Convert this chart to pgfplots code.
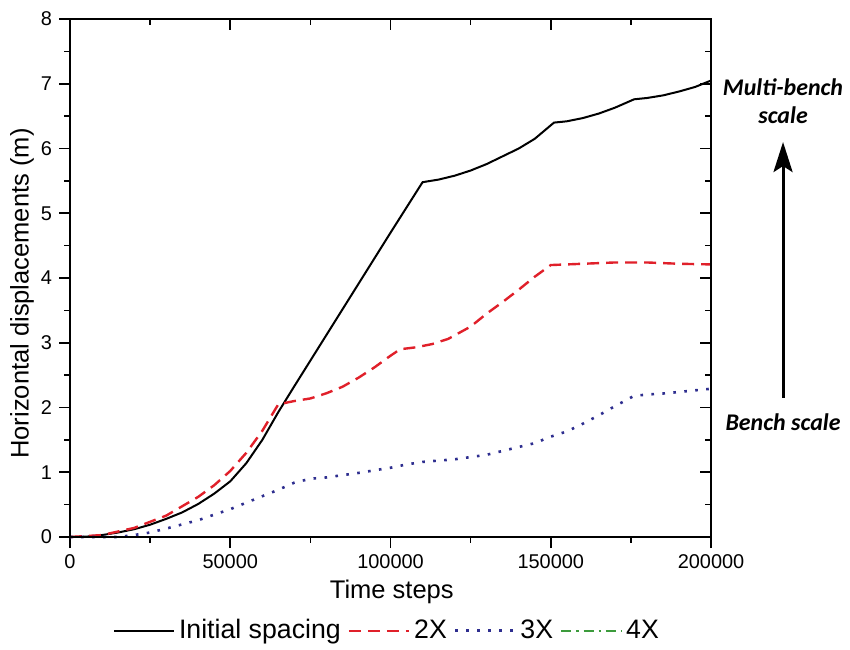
\documentclass[border=0pt]{standalone}
\usepackage{fontspec}
\setmainfont{Liberation Sans}
\newfontfamily\annfont{Carlito}
\usepackage{pgfplots}
\pgfplotsset{compat=1.18}
\usetikzlibrary{arrows.meta}

\definecolor{dred}{HTML}{E0202A}
\definecolor{dblue}{HTML}{2E2E8F}
\definecolor{dgreen}{HTML}{3C9B3C}

\pgfplotsset{
  frame/.style={
    scale only axis, width=320.5bp, height=259bp,
    xmin=0, xmax=200000, ymin=0, ymax=8,
    xtick={0,50000,100000,150000,200000}, minor x tick num=1,
    ytick={0,1,...,8}, minor y tick num=1,
    axis line style={line width=1bp},
    every tick/.style={black, line width=0.8bp},
    major tick length=5.5bp, minor tick length=2.8bp,
    scaled x ticks=false,
  }
}

\begin{document}
\begin{tikzpicture}
\begin{axis}[frame, name=ax,
    tick align=outside, xtick pos=left, ytick pos=left,
    clip=false,
    xticklabels={0,50000,100000,150000,200000},
    yticklabels={0,1,2,3,4,5,6,7,8},
    tick label style={font=\fontsize{10}{12}\selectfont},
    xlabel={Time steps},
    ylabel={Horizontal displacements (m)},
    label style={font=\fontsize{12.8}{15}\selectfont},
    xlabel style={at={(rel axis cs:0.502,-0.106)}, anchor=center},
    ylabel style={at={(rel axis cs:-0.075,0.47)}, anchor=center},
    legend columns=4,
    legend style={draw=none, fill=none, at={(rel axis cs:0.496,-0.181)}, anchor=center,
      font=\fontsize{13.4}{15}\selectfont,
      /tikz/every even column/.append style={column sep=1.5bp}},
    legend image code/.code={\draw[#1] (0bp,0bp) -- (30bp,0bp);},
]
\addplot[black, line width=1bp] coordinates {
  (0,0) (5000,0.005) (10000,0.03) (15000,0.07) (20000,0.12) (25000,0.19)
  (30000,0.28) (35000,0.38) (40000,0.51) (45000,0.67) (50000,0.86)
  (55000,1.14) (60000,1.5) (65000,1.93) (70000,2.33) (80000,3.12)
  (90000,3.91) (100000,4.7) (110000,5.48) (115000,5.52) (120000,5.58)
  (125000,5.66) (130000,5.76) (135000,5.88) (140000,6.0) (145000,6.15)
  (151000,6.4) (155000,6.42) (160000,6.47) (165000,6.54) (170000,6.63)
  (176000,6.76) (180000,6.78) (185000,6.82) (190000,6.88) (195000,6.95)
  (200000,7.05)
};
\addlegendentry{Initial spacing}
\addplot[dred, line width=1.2bp, dash pattern=on 6bp off 3.5bp] coordinates {
  (0,0) (10000,0.03) (20000,0.14) (30000,0.33) (40000,0.62) (45000,0.8)
  (50000,1.02) (55000,1.3) (60000,1.64) (65000,2.05) (70000,2.1) (75000,2.14)
  (80000,2.22) (85000,2.32) (90000,2.46) (95000,2.62) (100000,2.8)
  (103000,2.9) (108000,2.93) (113000,2.98) (118000,3.06) (125000,3.25)
  (130000,3.45) (135000,3.63) (140000,3.82) (145000,4.02) (150000,4.2)
  (160000,4.22) (170000,4.24) (180000,4.24) (190000,4.22) (200000,4.21)
};
\addlegendentry{2X}
\addplot[dblue, line width=1.3bp, dash pattern=on 1.3bp off 4.2bp] coordinates {
  (0,0) (15000,0) (20000,0.03) (25000,0.07) (30000,0.13) (40000,0.26)
  (50000,0.43) (56000,0.55) (60000,0.63) (65000,0.73) (70000,0.84)
  (75000,0.9) (80000,0.92) (90000,0.99) (100000,1.07) (105000,1.12)
  (110000,1.16) (120000,1.2) (130000,1.27) (140000,1.39) (145000,1.45)
  (150000,1.55) (155000,1.63) (160000,1.75) (165000,1.88) (170000,2.02)
  (176000,2.18) (180000,2.2) (186000,2.22) (192000,2.25) (200000,2.29)
};
\addlegendentry{3X}
\addplot[dgreen, line width=1.1bp, dash pattern=on 5bp off 2.5bp on 1.2bp off 2.5bp] coordinates {
  (0,0) (200000,0)
};
\addlegendentry{4X}
% annotations
\draw[line width=1.5bp, -{Stealth[length=15bp, width=9.5bp, inset=3bp]}]
  (axis cs:222465,2.15) -- (axis cs:222465,6.10);
\node[font=\annfont\bfseries\itshape\fontsize{12}{14}\selectfont, align=center]
  at (axis cs:222465,6.73) {Multi-bench\\scale};
\node[font=\annfont\bfseries\itshape\fontsize{12}{14}\selectfont]
  at (axis cs:222465,1.78) {Bench scale};
\path (rel axis cs:-0.1092,-0.2104) rectangle (rel axis cs:1.2168,1.0367);
\end{axis}
\begin{axis}[frame, at={(ax.south west)}, anchor=south west,
    tick align=inside, xtick pos=right, ytick pos=right,
    xticklabels={}, yticklabels={},
]
\end{axis}
\end{tikzpicture}
\end{document}
